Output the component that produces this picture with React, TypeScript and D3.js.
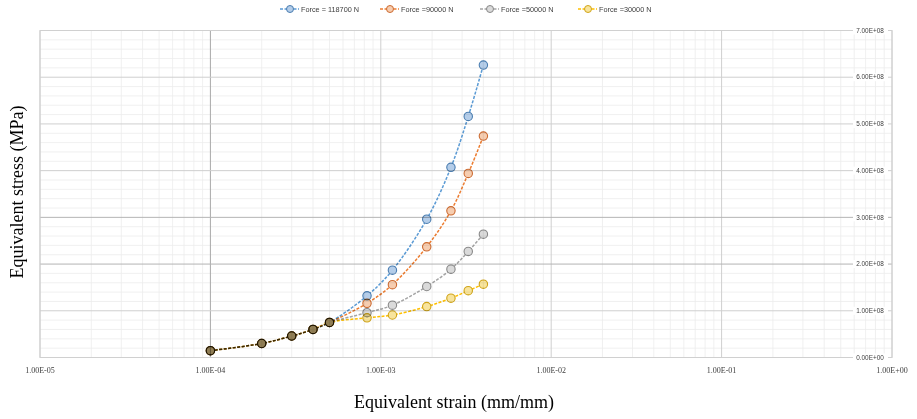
import React from "react";
import * as d3 from "d3";

// ---- data ----
const strainCommon = [1e-4, 2e-4, 3e-4, 4e-4, 5e-4];
const stressCommon = [0.146e8, 0.3e8, 0.46e8, 0.6e8, 0.75e8];
const strainUpper = [8.3e-4, 1.17e-3, 1.86e-3, 2.58e-3, 3.26e-3, 4.0e-3];
const stress118700 = [1.32e8, 1.87e8, 2.96e8, 4.07e8, 5.16e8, 6.26e8];
const stress90000 = [1.16e8, 1.56e8, 2.37e8, 3.14e8, 3.94e8, 4.74e8];
const stress50000 = [0.96e8, 1.12e8, 1.52e8, 1.89e8, 2.27e8, 2.64e8];
const stress30000 = [0.85e8, 0.91e8, 1.09e8, 1.27e8, 1.43e8, 1.57e8];
const seriesNames = ["Force = 118700 N", "Force =90000 N", "Force =50000 N", "Force =30000 N"];
const seriesStress = [stress118700, stress90000, stress50000, stress30000];
const xTicks = [1e-5, 1e-4, 1e-3, 1e-2, 1e-1, 1];
const xTickLabels = ["1.00E-05", "1.00E-04", "1.00E-03", "1.00E-02", "1.00E-01", "1.00E+00"];
const yTicks = [0, 1e8, 2e8, 3e8, 4e8, 5e8, 6e8, 7e8];
const yTickLabels = ["0.00E+00", "1.00E+08", "2.00E+08", "3.00E+08", "4.00E+08", "5.00E+08", "6.00E+08", "7.00E+08"];

const lineColors = ["#5b9bd5", "#ed7d31", "#a5a5a5", "#ffc000"];
const markerFill = ["#b4cde9", "#f6cdb0", "#dadada", "#f8e49c"];
const markerStroke = ["#4a7db0", "#cc6a30", "#888888", "#d0a418"];

const W = 917, H = 419;
const L = 40, R = 892, T = 30.5, B = 357.5;

export default function App() {
  const x = d3.scaleLog().domain([1e-5, 1]).range([L, R]);
  const y = d3.scaleLinear().domain([0, 7e8]).range([B, T]);

  const series = seriesStress.map((up, i) => {
    const pts: [number, number][] = [
      ...strainCommon.map((s, k) => [s, stressCommon[k]] as [number, number]),
      ...strainUpper.map((s, k) => [s, up[k]] as [number, number]),
    ];
    return { name: seriesNames[i], pts, i };
  });

  const line = d3
    .line<[number, number]>()
    .x((d) => x(d[0]))
    .y((d) => y(d[1]))
    .curve(d3.curveCatmullRom.alpha(0.5));

  // minor grid
  const minorX: number[] = [];
  for (let e = -5; e < 0; e++) for (let m = 2; m <= 9; m++) minorX.push(m * Math.pow(10, e));
  const minorY: number[] = [];
  for (let v = 0; v <= 7e8 + 1; v += 0.2e8) {
    if (Math.abs(v / 1e8 - Math.round(v / 1e8)) > 1e-6) minorY.push(v);
  }

  const legendX = [290, 390, 490, 588];

  return (
    <svg width={W} height={H} style={{ position: "absolute", left: 0, top: 0, background: "#fff" }}>
      <rect x={0} y={0} width={W} height={H} fill="#fff" />
      {/* minor gridlines */}
      {minorX.map((v, k) => (
        <line key={"mx" + k} x1={x(v)} x2={x(v)} y1={T} y2={B} stroke="#ececec" strokeWidth={0.8} />
      ))}
      {minorY.map((v, k) => (
        <line key={"my" + k} x1={L} x2={R} y1={y(v)} y2={y(v)} stroke="#ececec" strokeWidth={0.8} />
      ))}
      {/* major gridlines */}
      {xTicks.map((v, k) => (
        <line key={"gx" + k} x1={x(v)} x2={x(v)} y1={T} y2={B} stroke={k === 1 ? "#a8a8a8" : "#cfcfcf"} strokeWidth={1} />
      ))}
      {yTicks.map((v, k) => (
        <line key={"gy" + k} x1={L} x2={R} y1={y(v)} y2={y(v)} stroke={k === 2 || k === 3 ? "#b4b4b4" : "#cfcfcf"} strokeWidth={1} />
      ))}
      <rect x={L} y={T} width={R - L} height={B - T} fill="none" stroke="#d0d0d0" strokeWidth={1} />

      {/* series */}
      {series.map((s) => (
        <g key={s.name} style={{ mixBlendMode: "multiply" }}>
          <path d={line(s.pts) || ""} fill="none" stroke={lineColors[s.i]} strokeWidth={1.5} strokeDasharray="3,1.5" />
          {s.pts.map((p, k) => (
            <circle key={k} cx={x(p[0])} cy={y(p[1])} r={4.2} fill={markerFill[s.i]} stroke={markerStroke[s.i]} strokeWidth={1.1} />
          ))}
        </g>
      ))}

      {/* y tick labels (right, inside) */}
      {yTicks.map((v, k) => (
        <g key={"yl" + k}>
          <rect x={853} y={y(v) - 4} width={35} height={8} fill="#fff" />
          <text x={870} y={y(v) + 2.2} textAnchor="middle" fontFamily="Liberation Sans, Arial, sans-serif" fontSize={6.4} fill="#404040">
            {yTickLabels[k]}
          </text>
        </g>
      ))}
      {/* x tick labels */}
      {xTicks.map((v, k) => (
        <text key={"xl" + k} x={x(v)} y={373} textAnchor="middle" fontFamily="Liberation Serif, Times New Roman, serif" fontSize={8} fill="#404040">
          {xTickLabels[k]}
        </text>
      ))}

      {/* legend */}
      {seriesNames.map((n, i) => (
        <g key={"lg" + i}>
          <line x1={legendX[i] - 10} x2={legendX[i] + 9} y1={9} y2={9} stroke={lineColors[i]} strokeWidth={1.4} strokeDasharray="3,1.5" />
          <circle cx={legendX[i]} cy={9} r={3.5} fill={markerFill[i]} stroke={markerStroke[i]} strokeWidth={1} />
          <text x={legendX[i] + 11} y={11.5} fontFamily="Liberation Sans, Arial, sans-serif" fontSize={7.3} fill="#404040">
            {n}
          </text>
        </g>
      ))}

      {/* axis titles */}
      <text x={454} y={408} textAnchor="middle" fontFamily="Liberation Serif, Times New Roman, serif" fontSize={18} fill="#000">
        Equivalent strain (mm/mm)
      </text>
      <text
        transform={`translate(23,192) rotate(-90)`}
        textAnchor="middle"
        fontFamily="Liberation Serif, Times New Roman, serif"
        fontSize={18}
        fill="#000"
      >
        Equivalent stress (MPa)
      </text>
    </svg>
  );
}
